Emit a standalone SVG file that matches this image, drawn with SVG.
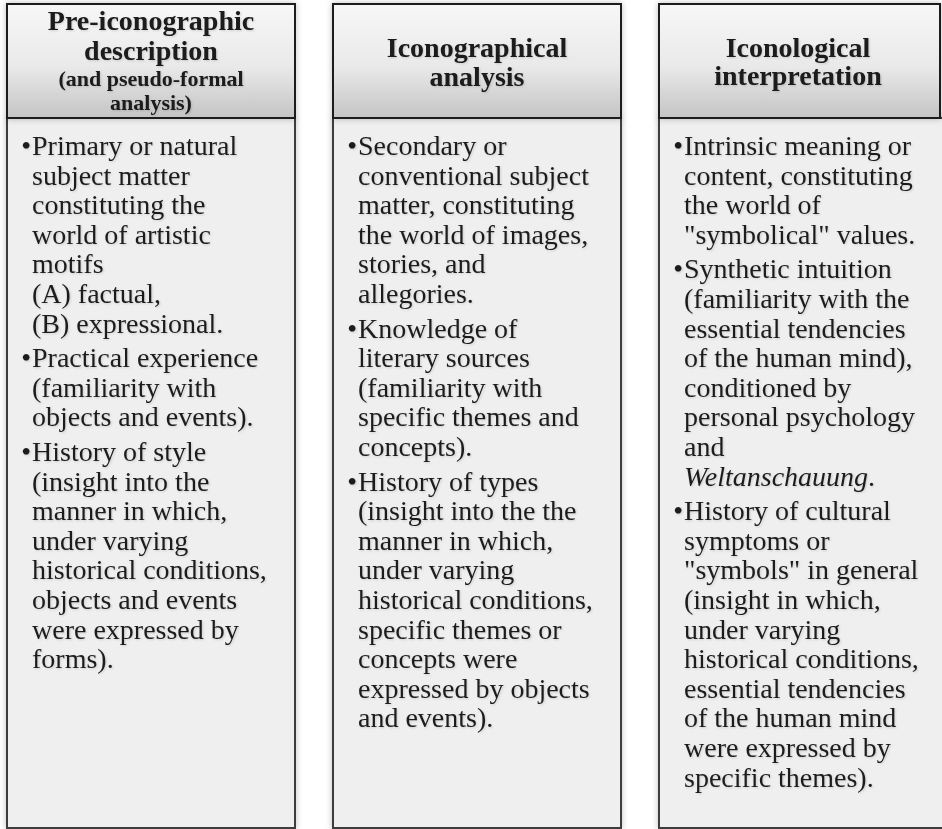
<svg xmlns="http://www.w3.org/2000/svg" width="942" height="829" viewBox="0 0 942 829">
<style>
.hd{font-family:"Liberation Serif","Times New Roman",serif;font-weight:bold;font-size:28px;fill:#1a1a1a;text-anchor:middle}
.hs{font-size:22px}
.bd{font-family:"Liberation Serif","Times New Roman",serif;font-size:28px;fill:#1e1e1e}
.head{fill:url(#hg);stroke:#1e1e1e;stroke-width:2}
.body{fill:#efefef;stroke:#3c3c3c;stroke-width:2}
</style>
<defs>
<linearGradient id="hg" x1="0" y1="0" x2="0" y2="1">
<stop offset="0" stop-color="#f7f7f7"/>
<stop offset="0.55" stop-color="#e9e9e9"/>
<stop offset="1" stop-color="#c4c4c4"/>
</linearGradient>
<filter id="sh" x="-10%" y="-10%" width="120%" height="120%">
<feDropShadow dx="0" dy="0" stdDeviation="3" flood-color="#000" flood-opacity="0.25"/>
</filter>
<filter id="ts" x="-5%" y="-20%" width="110%" height="140%">
<feDropShadow dx="1" dy="1" stdDeviation="1" flood-color="#000" flood-opacity="0.15"/>
</filter>
</defs>
<rect width="942" height="829" fill="#fff"/>

<g id="col1">
<rect class="body" x="7" y="118" width="288" height="710" filter="url(#sh)"/>
<rect class="head" x="7" y="4" width="288" height="114" filter="url(#sh)"/>
<g filter="url(#ts)">
<text class="hd" x="151" y="30">Pre-iconographic</text>
<text class="hd" x="151" y="60">description</text>
<text class="hd hs" x="151" y="86">(and pseudo-formal</text>
<text class="hd hs" x="151" y="110">analysis)</text>
<text class="bd" x="31" y="155" text-anchor="end">•</text>
<text class="bd" x="32" y="155">Primary or natural</text>
<text class="bd" x="32" y="184.6">subject matter</text>
<text class="bd" x="32" y="214.2">constituting the</text>
<text class="bd" x="32" y="243.8">world of artistic</text>
<text class="bd" x="32" y="273.4">motifs</text>
<text class="bd" x="32" y="303">(A) factual,</text>
<text class="bd" x="32" y="332.6">(B) expressional.</text>
<text class="bd" x="31" y="367.2" text-anchor="end">•</text>
<text class="bd" x="32" y="367.2">Practical experience</text>
<text class="bd" x="32" y="396.8">(familiarity with</text>
<text class="bd" x="32" y="426.4">objects and events).</text>
<text class="bd" x="31" y="461" text-anchor="end">•</text>
<text class="bd" x="32" y="461">History of style</text>
<text class="bd" x="32" y="490.6">(insight into the</text>
<text class="bd" x="32" y="520.2">manner in which,</text>
<text class="bd" x="32" y="549.8">under varying</text>
<text class="bd" x="32" y="579.4">historical conditions,</text>
<text class="bd" x="32" y="609">objects and events</text>
<text class="bd" x="32" y="638.6">were expressed by</text>
<text class="bd" x="32" y="668.2">forms).</text>
</g>
</g>

<g id="col2">
<rect class="body" x="333" y="118" width="288" height="710" filter="url(#sh)"/>
<rect class="head" x="333" y="4" width="288" height="114" filter="url(#sh)"/>
<g filter="url(#ts)">
<text class="hd" x="477" y="57">Iconographical</text>
<text class="hd" x="477" y="86">analysis</text>
<text class="bd" x="357" y="155" text-anchor="end">•</text>
<text class="bd" x="358" y="155">Secondary or</text>
<text class="bd" x="358" y="184.6">conventional subject</text>
<text class="bd" x="358" y="214.2">matter, constituting</text>
<text class="bd" x="358" y="243.8">the world of images,</text>
<text class="bd" x="358" y="273.4">stories, and</text>
<text class="bd" x="358" y="303">allegories.</text>
<text class="bd" x="357" y="337.6" text-anchor="end">•</text>
<text class="bd" x="358" y="337.6">Knowledge of</text>
<text class="bd" x="358" y="367.2">literary sources</text>
<text class="bd" x="358" y="396.8">(familiarity with</text>
<text class="bd" x="358" y="426.4">specific themes and</text>
<text class="bd" x="358" y="456">concepts).</text>
<text class="bd" x="357" y="490.6" text-anchor="end">•</text>
<text class="bd" x="358" y="490.6">History of types</text>
<text class="bd" x="358" y="520.2">(insight into the the</text>
<text class="bd" x="358" y="549.8">manner in which,</text>
<text class="bd" x="358" y="579.4">under varying</text>
<text class="bd" x="358" y="609">historical conditions,</text>
<text class="bd" x="358" y="638.6">specific themes or</text>
<text class="bd" x="358" y="668.2">concepts were</text>
<text class="bd" x="358" y="697.8">expressed by objects</text>
<text class="bd" x="358" y="727.4">and events).</text>
</g>
</g>

<g id="col3">
<rect class="body" x="659" y="118" width="295" height="710" filter="url(#sh)"/>
<rect class="head" x="659" y="4" width="281" height="114" filter="url(#sh)"/>
<g filter="url(#ts)">
<text class="hd" x="798" y="57">Iconological</text>
<text class="hd" x="798" y="85">interpretation</text>
<text class="bd" x="683" y="155" text-anchor="end">•</text>
<text class="bd" x="684" y="155">Intrinsic meaning or</text>
<text class="bd" x="684" y="184.6">content, constituting</text>
<text class="bd" x="684" y="214.2">the world of</text>
<text class="bd" x="684" y="243.8">"symbolical" values.</text>
<text class="bd" x="683" y="278.4" text-anchor="end">•</text>
<text class="bd" x="684" y="278.4">Synthetic intuition</text>
<text class="bd" x="684" y="308">(familiarity with the</text>
<text class="bd" x="684" y="337.6">essential tendencies</text>
<text class="bd" x="684" y="367.2">of the human mind),</text>
<text class="bd" x="684" y="396.8">conditioned by</text>
<text class="bd" x="684" y="426.4">personal psychology</text>
<text class="bd" x="684" y="456">and</text>
<text class="bd" x="684" y="485.6"><tspan font-style="italic">Weltanschauung</tspan>.</text>
<text class="bd" x="683" y="520.2" text-anchor="end">•</text>
<text class="bd" x="684" y="520.2">History of cultural</text>
<text class="bd" x="684" y="549.8">symptoms or</text>
<text class="bd" x="684" y="579.4">"symbols" in general</text>
<text class="bd" x="684" y="609">(insight in which,</text>
<text class="bd" x="684" y="638.6">under varying</text>
<text class="bd" x="684" y="668.2">historical conditions,</text>
<text class="bd" x="684" y="697.8">essential tendencies</text>
<text class="bd" x="684" y="727.4">of the human mind</text>
<text class="bd" x="684" y="757">were expressed by</text>
<text class="bd" x="684" y="786.6">specific themes).</text>
</g>
</g>
<g id="connectors"/>
</svg>
